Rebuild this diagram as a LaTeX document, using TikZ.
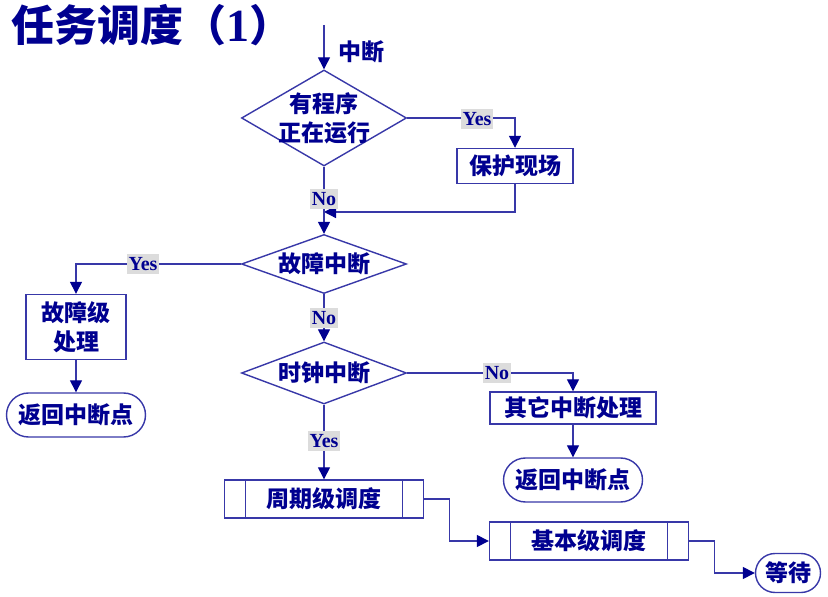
\documentclass[tikz,border=0pt]{standalone}
\usepackage{fontspec}
\setmainfont{Liberation Serif}
\newfontfamily\cjk{Noto Sans CJK SC}
\usepackage{xcolor}
\definecolor{flowLine}{HTML}{3838A8}
\definecolor{flowNavy}{HTML}{000090}
\definecolor{tagGray}{HTML}{DCDCDC}
\usetikzlibrary{arrows.meta, shapes.geometric, shapes.misc}

\begin{document}
\begin{tikzpicture}[
		x=0.5pt, y=-0.5pt,
		every node/.style={text=flowNavy},
		box/.style={
			draw=flowLine,
			line width=0.7pt,
			fill=white,
			inner sep=0pt,
			align=center,
			font=\cjk\bfseries\fontsize{11.5}{14.5}\selectfont
		},
		decision/.style={box, diamond, aspect=1.97, inner xsep=-3pt, inner ysep=-3pt, minimum width=82.5pt},
		terminal/.style={box, rounded rectangle, minimum width=69.5pt, minimum height=22pt},
		subproc/.style={
			box,
			minimum width=99.5pt,
			minimum height=19pt,
			path picture={
				\draw[flowLine, line width=0.7pt]
					([xshift=10.5pt]path picture bounding box.north west) -- ([xshift=10.5pt]path picture bounding box.south west)
					([xshift=-10.5pt]path picture bounding box.north east) -- ([xshift=-10.5pt]path picture bounding box.south east);
			}
		},
		tag/.style={fill=tagGray, inner xsep=1pt, inner ysep=1.5pt, font=\bfseries\fontsize{10}{10}\selectfont},
		arrow/.style={draw=flowLine, line width=0.7pt, -{Triangle[width=6pt, length=6pt, color=flowNavy]}}
		]
		
		\useasboundingbox (0,0) rectangle (828,597);
		
		\node[anchor=west, inner sep=0pt, font=\cjk\bfseries\fontsize{21.5}{21.5}\selectfont] (title) at (11,25) {任务调度（{\rmfamily\bfseries\fontsize{23}{23}\selectfont 1}）};
		
		\coordinate (start) at (324,25);
		\coordinate (join) at (324,212);
		
		\node[decision, minimum height=48pt] (running) at (324,118) {有程序\\正在运行};
		\node[box, minimum width=58pt, minimum height=17.5pt] (save) at (515,166) {保护现场};
		\node[decision, minimum height=29.5pt] (fault) at (324,264) {故障中断};
		\node[box, minimum width=50pt, minimum height=32.5pt] (faultproc) at (76,327) {故障级\\处理};
		\node[terminal] (ret1) at (76,415) {返回中断点};
		\node[decision, minimum height=31pt] (clock) at (324,373) {时钟中断};
		\node[box, minimum width=83pt, minimum height=16pt] (other) at (573,408) {其它中断处理};
		\node[terminal] (ret2) at (573,480) {返回中断点};
		\node[subproc] (periodic) at (324,499) {周期级调度};
		\node[subproc] (basic) at (589,541) {基本级调度};
		\node[terminal, minimum width=32.5pt, minimum height=19.5pt] (wait) at (788,573) {等待};
		
		\draw[arrow] (start) -- (running.north);
		\node[anchor=west, font=\cjk\bfseries\fontsize{11.5}{11.5}\selectfont] (intr) at (331,52) {中断};
		
		\draw[arrow] (running.east) -| (save.north);
		\draw[arrow] (save.south) |- (join);
		\draw[arrow] (running.south) -- (fault.north);
		\draw[arrow] (fault.west) -| (faultproc.north);
		\draw[arrow] (faultproc.south) -- (ret1.north);
		\draw[arrow] (fault.south) -- (clock.north);
		\draw[arrow] (clock.east) -| (other.north);
		\draw[arrow] (other.south) -- (ret2.north);
		\draw[arrow] (clock.south) -- (periodic.north);
		\draw[arrow] (periodic.east) -- ++(25,0) |- (basic.west);
		\draw[arrow] (basic.east) -- ++(25,0) |- (wait.west);
		
		\node[tag] (yes1) at (477,119) {Yes};
		\node[tag] (no1) at (324,199) {No};
		\node[tag] (yes2) at (143,264) {Yes};
		\node[tag] (no2) at (324,318) {No};
		\node[tag] (no3) at (497,373) {No};
		\node[tag] (yes3) at (324,441) {Yes};
		
	\end{tikzpicture}
\end{document}
